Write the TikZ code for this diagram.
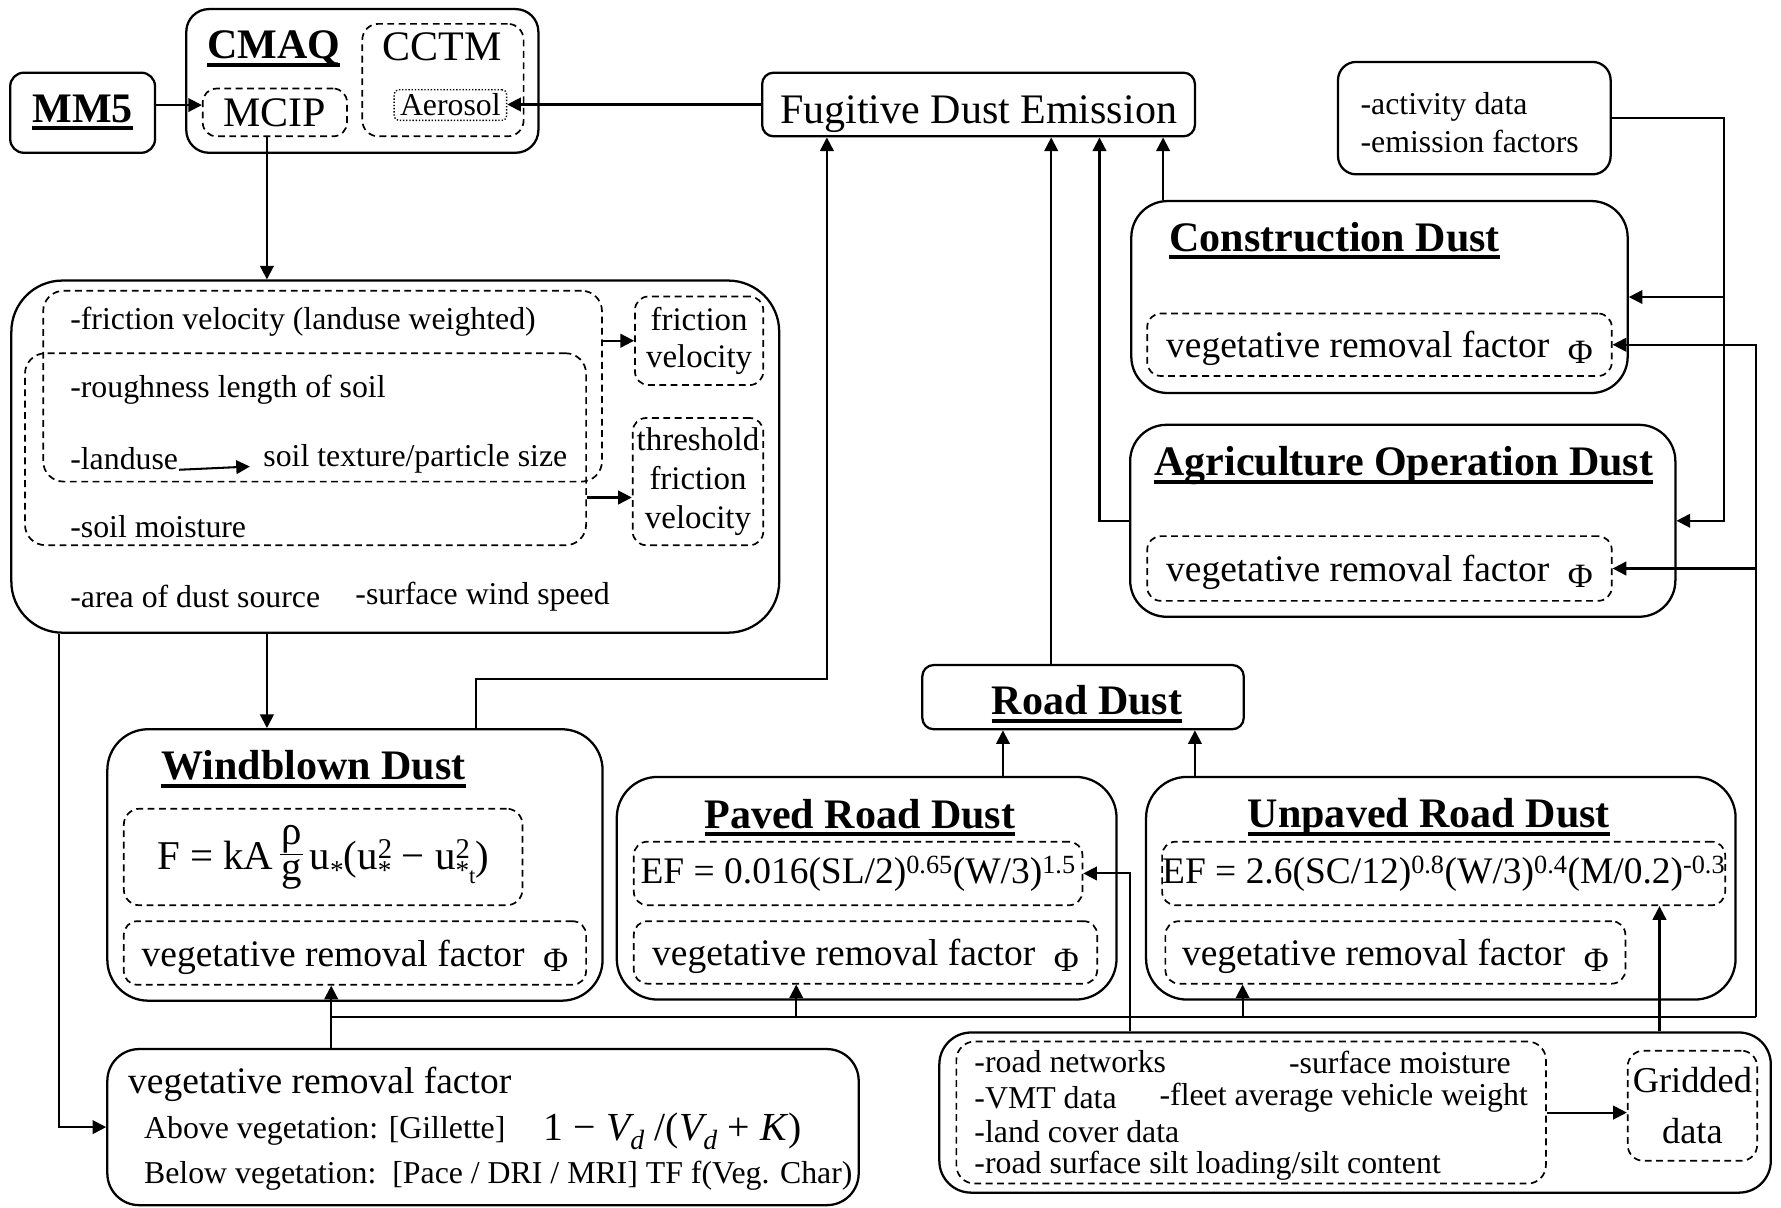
\documentclass[tikz,border=0pt]{standalone}
\usepackage{fontspec}
\setmainfont{Liberation Serif}
\usetikzlibrary{arrows.meta}
\newlength\ttlw
\newcommand\ttl[1]{\settowidth\ttlw{\textbf{#1}}\textbf{#1}\llap{\rule[-7pt]{\ttlw}{3.5pt}}}
\newcommand\fs[2]{\fontsize{#1}{#2}\selectfont}
\newcommand\phibox{\raisebox{-5pt}{\fs{30}{30}Φ}}
\newcommand\frc[2]{\raisebox{12pt}{\rlap{\raisebox{10pt}{\makebox[20pt]{#1}}}\rlap{\rule{20pt}{1.5pt}}\raisebox{-22pt}{\makebox[20pt]{#2}}}}
\newcommand\sst{\raisebox{-9pt}{\fs{24}{24}*}}

\begin{document}
\begin{tikzpicture}[
  x=1pt, y=-1pt,
  every node/.style={inner sep=0pt},
  box/.style={draw,line width=2pt,rounded corners=#1},
  box/.default=12pt,
  dbox/.style={draw,line width=1.5pt,dash pattern=on 6pt off 4pt,rounded corners=#1},
  dbox/.default=12pt,
  big/.style={font=\fs{37}{44}},
  mid/.style={font=\fs{33}{40}},
  sml/.style={font=\fs{28}{34}},
  vt/.style={text height=23pt,text depth=0pt},
  ->, >={Triangle[length=12pt,width=12pt]}, line width=1.8pt
]
  \useasboundingbox (0,0) rectangle (1568,1063);

  \node[box,minimum width=127.5pt,minimum height=70.5pt,big] (mm5) at (72.75,99.25) {\ttl{MM5}};
  \node[box=20pt,minimum width=310pt,minimum height=126.5pt] (cmaq) at (319,71.25) {};
  \node[big] (cmaqt) at (241,43) {\ttl{CMAQ}};
  \node[dbox=14pt,minimum width=142pt,minimum height=99pt] (cctm) at (390,70.5) {};
  \node[big] (cctmt) at (389,41) {CCTM};
  \node[draw,line width=1.2pt,dash pattern=on 1.2pt off 1.6pt,rounded corners=4pt,minimum width=99pt,minimum height=27pt,sml] (aero) at (396.5,92.5) {Aerosol};
  \node[dbox,minimum width=127pt,minimum height=42pt,big] (mcip) at (242,99) {MCIP};

  \node[box=10pt,minimum width=381pt,minimum height=56pt,big,text height=33pt,text depth=0pt] (fde) at (861.5,92) {Fugitive Dust Emission};
  \node[box=16pt,minimum width=240pt,minimum height=99pt] (act) at (1298,104) {};
  \node[sml,align=left,anchor=west] (actt) at (1197,108) {-activity data\\-emission factors};

  \node[box=32pt,minimum width=437pt,minimum height=169pt] (cons) at (1214.5,261.5) {};
  \node[big] (const) at (1175,212) {\ttl{Construction Dust}};
  \node[dbox,minimum width=409pt,minimum height=55pt,mid,vt] (cveg) at (1214.5,303.5) {vegetative removal factor~~\phibox};

  \node[box=32pt,minimum width=480pt,minimum height=169pt] (agri) at (1235,458.5) {};
  \node[big] (agrit) at (1236,410) {\ttl{Agriculture Operation Dust}};
  \node[dbox,minimum width=409pt,minimum height=57pt,mid,vt] (aveg) at (1214.5,500.5) {vegetative removal factor~~\phibox};

  \node[box=45pt,minimum width=676pt,minimum height=310pt] (met) at (348,402) {};
  \node[dbox=18pt,minimum width=492pt,minimum height=168pt] (fgrp) at (284,340) {};
  \node[dbox=18pt,minimum width=494pt,minimum height=169pt] (tgrp) at (269,395.5) {};
  \node[dbox,minimum width=113pt,minimum height=78pt,font=\fs{29}{33},align=center] (fv) at (615.5,300) {friction\\velocity};
  \node[dbox,minimum width=115pt,minimum height=112pt,font=\fs{29}{34},align=center] (tfv) at (614.5,424) {threshold\\friction\\velocity};
  \node[sml,anchor=west] (m1) at (61,283) {-friction velocity (landuse weighted)};
  \node[sml,anchor=west] (m2) at (61,343) {-roughness length of soil};
  \node[sml,anchor=west] (lu) at (61,404) {-landuse};
  \node[sml,anchor=west] (stx) at (231,404) {soil texture/particle size};
  \node[sml,anchor=west] (m4) at (61,464) {-soil moisture};
  \node[sml,anchor=west] (m5) at (61,525) {-area of dust source};
  \node[sml,anchor=west] (m6) at (312,525) {-surface wind speed};

  \node[box=36pt,minimum width=436pt,minimum height=239pt] (wnd) at (312.5,761.5) {};
  \node[big] (wndt) at (276,677) {\ttl{Windblown Dust}};
  \node[dbox=14pt,minimum width=351pt,minimum height=85pt,font=\fs{36}{40}] (wf) at (284.5,754.5)
    {F = kA\,\frc{ρ}{g}\,u\sst(u\rlap{\textsuperscript{2}}\sst{} − u\rlap{\textsuperscript{2}}\sst\raisebox{-13pt}{\fs{20}{20}t})};
  \node[dbox,minimum width=407pt,minimum height=56pt,mid,vt] (wveg) at (312.5,839) {vegetative removal factor~~\phibox};

  \node[box=10pt,minimum width=283pt,minimum height=56.5pt] (road) at (953.5,613.75) {};
  \node[big] (roadt) at (957,620) {\ttl{Road Dust}};
  \node[box=36pt,minimum width=440pt,minimum height=196pt] (pav) at (763,782) {};
  \node[big] (pavt) at (757,720) {\ttl{Paved Road Dust}};
  \node[dbox,minimum width=395pt,minimum height=56pt,font=\fs{33}{38}] (pef) at (755.5,769) {EF = 0.016(SL/2)\textsuperscript{0.65}(W/3)\textsuperscript{1.5}};
  \node[dbox,minimum width=408pt,minimum height=55pt,mid,vt] (pveg) at (762,838.5) {vegetative removal factor~~\phibox};
  \node[box=36pt,minimum width=519pt,minimum height=196pt] (unp) at (1268.5,782) {};
  \node[big] (unpt) at (1258,720) {\ttl{Unpaved Road Dust}};
  \node[dbox,minimum width=490pt,minimum height=56pt,font=\fs{33}{38}] (uef) at (1271,769) {EF = 2.6(SC/12)\textsuperscript{0.8}(W/3)\textsuperscript{0.4}(M/0.2)\textsuperscript{-0.3}};
  \node[dbox,minimum width=405pt,minimum height=55pt,mid,vt] (uveg) at (1228.5,838.5) {vegetative removal factor~~\phibox};

  \node[box=28pt,minimum width=661.5pt,minimum height=137.4pt] (vrf) at (425.25,992.3) {};
  \node[mid,anchor=west] (vrft) at (112,955) {vegetative removal factor};
  \node[sml,anchor=west] (abv) at (126,996) {Above vegetation: [Gillette]};
  \node[font=\fs{35}{40},anchor=west] (gil) at (478,996) {1 − \textit{V\textsubscript{d}} /(\textit{V\textsubscript{d}} + \textit{K})};
  \node[sml,anchor=west] (blw) at (126,1035) {Below vegetation:\ \ [Pace / DRI / MRI] TF f(Veg. Char)};

  \node[box=28pt,minimum width=732pt,minimum height=141pt] (rdat) at (1193,979.5) {};
  \node[dbox=16pt,minimum width=519pt,minimum height=125pt] (rlist) at (1101.5,979.5) {};
  \node[sml,anchor=west] (r1) at (857,935) {-road networks};
  \node[sml,anchor=west] (r2) at (1134,935) {-surface moisture};
  \node[sml,anchor=west] (r3) at (857,966) {-VMT data};
  \node[sml,anchor=west] (r4) at (1020,966) {-fleet average vehicle weight};
  \node[sml,anchor=west] (r5) at (857,996) {-land cover data};
  \node[sml,anchor=west] (r6) at (857,1026) {-road surface silt loading/silt content};
  \node[dbox=14pt,minimum width=114pt,minimum height=97pt,font=\fs{32}{45},align=center] (grid) at (1490,973.5) {Gridded\\data};

  \path ([yshift=6.5pt]mcip.west) coordinate (mw);
  \draw (mw -| mm5.east) -- (mw);
  \draw (fde.west) -- (fde.west -| aero.east);
  \path ([xshift=-7pt]mcip.south) coordinate (mc);
  \draw (mc) -- (mc |- met.north);
  \draw (mc |- met.south) -- (mc |- wnd.north);
  \path ([xshift=-296pt]met.south) coordinate (ml);
  \draw (ml) |- (vrf.west);
  \draw (lu.base east) -- ([xshift=-11pt]stx.base west);
  \draw (fv.west -| fgrp.east) -- (fv.west);
  \path ([yshift=-14pt]tfv.west) coordinate (ta);
  \draw (ta -| tgrp.east) -- (ta);

  \path ([xshift=106.5pt]wnd.north) coordinate (wn);
  \draw (wn) -- ++(0,-43) -| ([xshift=-133.5pt]fde.south);
  \path ([xshift=-28pt]road.north) coordinate (rn);
  \draw (rn) -- (rn |- fde.south);
  \draw (agri.west) -| ([xshift=106.5pt]fde.south);
  \path ([xshift=-190.5pt]cons.north) coordinate (cn);
  \draw (cn) -- (cn |- fde.south);
  \draw (act.east) -| ([xshift=42pt]agri.east) -- (agri.east);
  \draw ([xshift=84pt]cons.east) -- (cons.east);

  \path ([xshift=120pt]pav.north) coordinate (pn);
  \draw (pn) -- (pn |- road.south);
  \path ([xshift=-216.5pt]unp.north) coordinate (un);
  \draw (un) -- (un |- road.south);

  \coordinate (b1) at (291.6,895);
  \coordinate (b2) at (1546,895);
  \draw[-] (b1) -- (b2);
  \draw (b2) |- (cveg.east);
  \draw (b2 |- aveg.east) -- (aveg.east);
  \draw (b1 |- vrf.north) -- (b1 |- wveg.south);
  \path ([xshift=-61pt]pveg.south) coordinate (pv);
  \draw (pv |- b1) -- (pv);
  \path ([xshift=-134.5pt]uveg.south) coordinate (uv);
  \draw (uv |- b1) -- (uv);

  \path ([xshift=-198pt]rdat.north) coordinate (rd);
  \draw (rd) |- (pef.east);
  \path ([xshift=190pt]uef.south) coordinate (ue);
  \draw (ue |- rdat.north) -- (ue);
  \draw (rlist.east) -- (rlist.east -| grid.west);
\end{tikzpicture}
\end{document}
